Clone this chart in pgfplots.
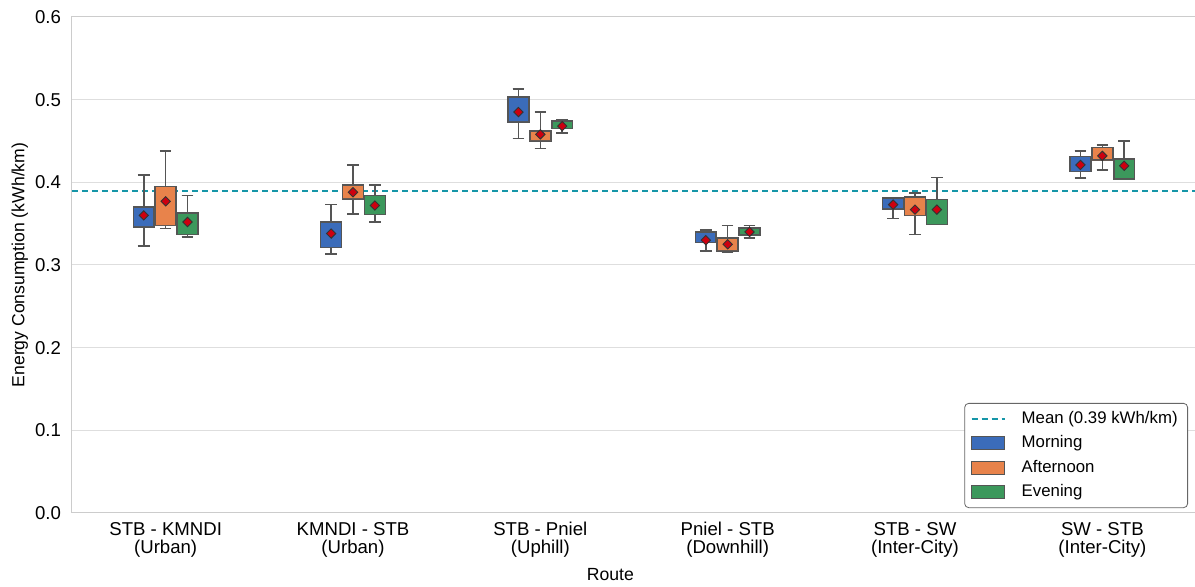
\documentclass[border=0pt]{standalone}
\usepackage{fontspec}
\setmainfont{Liberation Sans}
\usepackage{pgfplots}
\pgfplotsset{compat=1.18}
\usepgfplotslibrary{statistics}
\definecolor{cBlue}{RGB}{59,108,186}
\definecolor{cOrange}{RGB}{232,131,75}
\definecolor{cGreen}{RGB}{60,152,92}
\definecolor{cEdge}{RGB}{85,85,85}
\definecolor{cMean}{RGB}{22,150,168}
\definecolor{cGrid}{RGB}{222,222,222}
\definecolor{cSpine}{RGB}{204,204,204}
\definecolor{cDot}{RGB}{205,0,15}
\pgfplotsset{
  boxleg/.style={legend image code/.code={\draw[##1, sharp corners] (0pt,-3.25pt) rectangle (16.5pt,3.25pt); \path[draw=none, fill=none] (0pt,0pt) -- (23pt,0pt);}},
  lineleg/.style={legend image code/.code={\draw[##1, sharp corners] (0pt,0pt) -- (16.5pt,0pt); \path[draw=none, fill=none] (0pt,0pt) -- (23pt,0pt);}},
}
% \bx{position}{lower whisker}{lower quartile}{upper quartile}{upper whisker}{colour}
\newcommand{\bx}[6]{%
  \addplot[forget plot, fill=#6, draw=cEdge, line width=0.8pt,
    boxplot/draw direction=y,
    boxplot prepared={draw position=#1, lower whisker=#2, lower quartile=#3,
      median=#3, upper quartile=#4, upper whisker=#5,
      box extend=0.112, whisker extend=0.062,
      every median/.style={draw=none}}] coordinates {};}
\begin{document}
\begin{tikzpicture}
\useasboundingbox (0,0) rectangle (597.5pt,293.5pt);
\begin{axis}[
  at={(36pt,37pt)}, anchor=south west, scale only axis,
  width=562pt, height=248pt,
  xmin=-0.5, xmax=5.5, ymin=0, ymax=0.6,
  xtick={0,1,2,3,4,5},
  xticklabels={{STB - KMNDI\\(Urban)},{KMNDI - STB\\(Urban)},{STB - Pniel\\(Uphill)},{Pniel - STB\\(Downhill)},{STB - SW\\(Inter-City)},{SW - STB\\(Inter-City)}},
  xticklabel style={align=center, font=\fontsize{9.3}{9}\selectfont, yshift=-1pt},
  ytick={0,0.1,0.2,0.3,0.4,0.5,0.6},
  yticklabel style={/pgf/number format/.cd, fixed, fixed zerofill, precision=1, /tikz/.cd, font=\fontsize{9.3}{10}\selectfont, xshift=-2pt},
  /pgf/number format/assume math mode=true,
  major tick length=0pt, tick style={draw=none},
  ymajorgrids, grid style={cGrid, line width=0.5pt},
  axis line style={cSpine, line width=0.5pt},
  ylabel={Energy Consumption (kWh/km)},
  ylabel style={at={(axis description cs:-0.0465,0.5)}, anchor=center, font=\fontsize{8.8}{10}\selectfont},
  xlabel={Route},
  xlabel style={at={(axis description cs:0.479,-0.125)}, anchor=center, font=\fontsize{8.8}{10}\selectfont},
  legend style={at={(0.9929,0.2218)}, anchor=north east, draw=cEdge!90, rounded corners=2pt,
    fill=white, font=\fontsize{8.4}{10}\selectfont, row sep=0.6pt, inner xsep=3pt, inner ysep=2pt},
  legend cell align=left,
  clip=false,
]
% Mean reference line
\addplot[cMean, line width=1pt, dash pattern=on 3pt off 2pt, lineleg]
  coordinates {(-0.5,0.389) (5.5,0.389)};
\addlegendentry{Mean (0.39 kWh/km)}
\addlegendimage{fill=cBlue, draw=cEdge, line width=0.5pt, boxleg}
\addlegendentry{Morning}
\addlegendimage{fill=cOrange, draw=cEdge, line width=0.5pt, boxleg}
\addlegendentry{Afternoon}
\addlegendimage{fill=cGreen, draw=cEdge, line width=0.5pt, boxleg}
\addlegendentry{Evening}
% STB - KMNDI
\bx{-0.1167}{0.323}{0.346}{0.370}{0.409}{cBlue}
\bx{0}{0.344}{0.348}{0.395}{0.438}{cOrange}
\bx{0.1167}{0.334}{0.337}{0.363}{0.384}{cGreen}
% KMNDI - STB
\bx{0.8833}{0.313}{0.321}{0.352}{0.373}{cBlue}
\bx{1}{0.362}{0.380}{0.397}{0.421}{cOrange}
\bx{1.1167}{0.352}{0.361}{0.384}{0.397}{cGreen}
% STB - Pniel
\bx{1.8833}{0.453}{0.473}{0.503}{0.513}{cBlue}
\bx{2}{0.441}{0.450}{0.462}{0.485}{cOrange}
\bx{2.1167}{0.460}{0.465}{0.474}{0.476}{cGreen}
% Pniel - STB
\bx{2.8833}{0.317}{0.327}{0.340}{0.342}{cBlue}
\bx{3}{0.315}{0.317}{0.333}{0.348}{cOrange}
\bx{3.1167}{0.333}{0.336}{0.345}{0.348}{cGreen}
% STB - SW
\bx{3.8833}{0.356}{0.368}{0.381}{0.381}{cBlue}
\bx{4}{0.337}{0.360}{0.382}{0.387}{cOrange}
\bx{4.1167}{0.349}{0.349}{0.379}{0.406}{cGreen}
% SW - STB
\bx{4.8833}{0.405}{0.413}{0.431}{0.438}{cBlue}
\bx{5}{0.415}{0.427}{0.442}{0.445}{cOrange}
\bx{5.1167}{0.404}{0.404}{0.428}{0.450}{cGreen}
% Means
\addplot[forget plot, only marks, mark=square*, mark size=1.65pt,
  mark options={rotate=45, fill=cDot, draw=black!80, line width=0.45pt}]
  coordinates {
  (-0.1167,0.360) (0,0.377) (0.1167,0.352)
  (0.8833,0.338) (1,0.388) (1.1167,0.372)
  (1.8833,0.485) (2,0.458) (2.1167,0.468)
  (2.8833,0.330) (3,0.325) (3.1167,0.340)
  (3.8833,0.373) (4,0.367) (4.1167,0.367)
  (4.8833,0.421) (5,0.432) (5.1167,0.420)};
\end{axis}
\end{tikzpicture}
\end{document}
